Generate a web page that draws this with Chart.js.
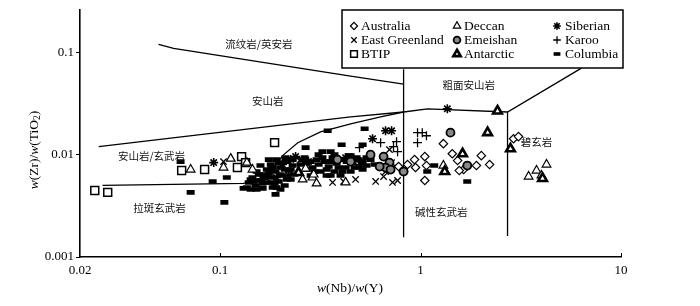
<!DOCTYPE html>
<html><head><meta charset="utf-8">
<script src="https://cdn.jsdelivr.net/npm/chart.js@4.4.0/dist/chart.umd.min.js"></script>
<style>html,body{margin:0;padding:0;background:#fff;}canvas{display:block;}</style>
</head><body>
<canvas id="c" width="700" height="306"></canvas>
<script>
// ---- tick values ----
const xTicks = [0.02, 0.1, 1, 10];
const yTicks = [0.001, 0.01, 0.1];
const xRange = [0.02, 10];
const yRange = [0.001, 0.26];

// ---- series: [Nb/Y, Zr/TiO2] ----
const australia = [[1.30,0.0128],[1.05,0.00957],[0.933,0.00894],[1.07,0.00782],[0.944,0.00748],[1.05,0.00559],[1.44,0.0102],[1.53,0.00875],[2.01,0.00978],[2.21,0.0080],[1.90,0.00782],[1.64,0.00715],[1.56,0.00699],[0.861,0.0080],[0.823,0.00684],[0.777,0.00765],[2.91,0.0143],[3.08,0.0150]];
const eastGreenland = [[0.700,0.0112],[0.717,0.00836],[0.654,0.00611],[0.725,0.00535],[0.768,0.00559],[0.669,0.00684],[0.474,0.00572],[0.413,0.00547],[0.364,0.00535],[0.597,0.00547],[0.104,0.00855],[0.252,0.00894]];
const btip = [[0.0237,0.00446],[0.0275,0.00428],[0.0643,0.0070],[0.0837,0.00715],[0.122,0.00748],[0.128,0.00957],[0.134,0.00836],[0.187,0.0131]];
const deccan = [[0.0713,0.00715],[0.104,0.00748],[0.113,0.00915],[0.145,0.00715],[0.136,0.00836],[0.258,0.00572],[0.289,0.00598],[0.303,0.00523],[0.267,0.00731],[0.293,0.0064],[0.423,0.00535],[1.30,0.00782],[3.46,0.00611],[3.79,0.00699],[4.25,0.00800],[4.01,0.00626]];
const emeishan = [[1.41,0.0164],[1.71,0.00782],[0.654,0.00957],[0.700,0.00836],[0.669,0.00748],[0.823,0.00684],[0.625,0.00765],[0.709,0.00715],[0.448,0.00855],[0.563,0.0100],[0.385,0.00894]];
const antarctic = [[2.42,0.0267],[2.16,0.0164],[2.81,0.0114],[1.62,0.0102],[1.32,0.00684],[4.06,0.00585],[0.246,0.00669]];
const siberian = [[1.36,0.0280],[0.669,0.0171],[0.717,0.0171],[0.576,0.0143],[0.0929,0.00836],[0.238,0.00957],[0.276,0.00855],[0.179,0.00715],[0.205,0.0080],[0.220,0.00626],[0.191,0.00598],[0.163,0.00572],[0.225,0.00894],[0.423,0.00935],[0.502,0.0080]];
const karoo = [[0.966,0.0164],[1.02,0.0164],[1.07,0.0153],[0.966,0.0131],[0.632,0.0131],[0.759,0.0134],[0.768,0.0107],[0.496,0.0117],[0.733,0.0120]];
const columbia = [[0.0635,0.00855],[0.0918,0.00547],[0.0713,0.00428],[0.108,0.00598],[0.105,0.00342],[0.131,0.00468],[0.189,0.00409],[0.267,0.0117],[0.344,0.0171],[0.324,0.0107],[0.404,0.0125],[0.526,0.0179],[0.514,0.0125],[1.08,0.00684],[1.17,0.00782],[1.71,0.00547],
 [0.139,0.00535],[0.145,0.00598],[0.150,0.00500],[0.156,0.00559],[0.163,0.00640],[0.163,0.00468],[0.171,0.00715],[0.171,0.00535],[0.179,0.00800],[0.179,0.00598],[0.183,0.00478],[0.189,0.00684],[0.191,0.00894],[0.196,0.00547],[0.200,0.00748],[0.205,0.00626],[0.210,0.00500],[0.215,0.00855],[0.220,0.00699],[0.225,0.00572],[0.230,0.00782],[0.152,0.00684],[0.175,0.00894],[0.200,0.00457],[0.159,0.00782],[0.235,0.00640],[0.142,0.00457],[0.167,0.00598],[0.187,0.00523],[0.212,0.00935],[0.136,0.00478],[0.147,0.00547],
 [0.142,0.00572],[0.156,0.0064],[0.163,0.00523],[0.175,0.00654],[0.183,0.00748],[0.196,0.00836],[0.200,0.0064],[0.210,0.00715],[0.215,0.00572],[0.225,0.00715],[0.230,0.00894],[0.191,0.00478],[0.171,0.00611],[0.152,0.00457],[0.179,0.00535],
 [0.252,0.00800],[0.264,0.00935],[0.270,0.00715],[0.283,0.00855],[0.289,0.00748],[0.303,0.00894],[0.310,0.0100],[0.317,0.00684],[0.332,0.00855],[0.340,0.00626],[0.348,0.00765],[0.364,0.00935],[0.372,0.00684],[0.381,0.00818],[0.399,0.00626],[0.408,0.00894],[0.423,0.00748],[0.438,0.00978],[0.448,0.00684],[0.458,0.00836],[0.480,0.00935],[0.491,0.00748],[0.514,0.00855],[0.538,0.00782],[0.563,0.00894],[0.590,0.0080],[0.356,0.0107],
 [0.258,0.00894],[0.270,0.00818],[0.296,0.00684],[0.310,0.0080],[0.324,0.00935],[0.340,0.00715],[0.356,0.00855],[0.372,0.0100],[0.390,0.00748],[0.408,0.00684],[0.428,0.00855],[0.448,0.00978],[0.469,0.00748],[0.491,0.00894],[0.514,0.00715],[0.538,0.00935],[0.283,0.00626],[0.356,0.00626]];

// ---- field boundaries ----
const lineRhyolite = [[0.0493,0.1197],[0.0586,0.1094],[0.448,0.0585],[0.823,0.0489]];
const lineAndesite = [[0.0248,0.01196],[0.448,0.0234],[0.823,0.0261],[1.084,0.0280],[2.716,0.0261],[6.35,0.070]];
const lineBasalt = [[0.0259,0.0050],[0.131,0.00523],[0.163,0.00598],[0.189,0.00782],[0.205,0.00978],[0.244,0.01308],[0.317,0.0167],[0.448,0.0200],[0.632,0.0234],[0.823,0.0261]];
const lineVert1 = [[0.823,0.0684],[0.823,0.00156]];
const lineVert2 = [[2.716,0.0261],[2.716,0.00160]];

// ---- field names ----
const fieldNames = ['流纹岩/英安岩','安山岩','安山岩/玄武岩','拉斑玄武岩','粗面安山岩','碱性玄武岩','碧玄岩'];
const fieldPos = [[0.156,0.120],[0.173,0.0334],[0.0455,0.00978],[0.0499,0.00299],[1.74,0.0479],[1.27,0.00274],[3.79,0.0134]];

const toXY = a => a.map(p => ({x:p[0], y:p[1]}));
const serif = "'Liberation Serif', 'Times New Roman', serif";

function pts(label, data, style, radius, bw, bg, order){
  return {label, data: toXY(data), showLine:false, pointStyle:style, pointRadius:radius,
    pointBorderWidth:bw, pointBorderColor:'#000', pointBackgroundColor:bg, borderColor:'#000', backgroundColor:bg, order};
}
function ln(data){
  return {label:'_line', data: toXY(data), showLine:true, pointRadius:0, borderColor:'#000', borderWidth:1.3, tension:0, fill:false, order:20};
}
const series = [
  pts('Australia', australia, 'rectRot', 4.2, 1.2, '#fff', 5),
  pts('East Greenland', eastGreenland, 'crossRot', 4.5, 1.3, '#fff', 5),
  pts('BTIP', btip, 'rect', 5.6, 1.5, '#fff', 5),
  pts('Deccan', deccan, 'triangle', 5, 1.2, '#fff', 4),
  pts('Emeishan', emeishan, 'circle', 4, 1.8, '#888', 3),
  pts('Antarctic', antarctic, 'triangle', 5, 2.6, '#fff', 3),
  pts('Siberian', siberian, 'star', 4.5, 1.6, '#fff', 6),
  pts('Karoo', karoo, 'cross', 4.5, 1.3, '#fff', 5),
  pts('Columbia', columbia, 'line', 4, 4.6, '#000', 7)
];
const datasets = [ln(lineRhyolite), ln(lineAndesite), ln(lineBasalt), ln(lineVert1), ln(lineVert2), ...series];

function richText(ctx, parts, size){
  let total = 0;
  const ms = parts.map(p => {
    const fs = p.sub ? size*0.7 : size;
    ctx.font = (p.it ? 'italic ' : '') + fs + 'px ' + serif;
    const w = ctx.measureText(p.t).width; total += w; return {p, w, fs};
  });
  let x = -total/2;
  ms.forEach(m => {
    ctx.font = (m.p.it ? 'italic ' : '') + m.fs + 'px ' + serif;
    ctx.fillText(m.p.t, x, m.p.sub ? size*0.25 : 0);
    x += m.w;
  });
}

const decor = {
  id:'decor',
  afterDraw(chart){
    const ctx = chart.ctx, xs = chart.scales.x, ys = chart.scales.y, ca = chart.chartArea;
    ctx.save();
    ctx.strokeStyle = '#000'; ctx.lineWidth = 1;
    xTicks.slice(1).forEach(v => { const px = Math.round(xs.getPixelForValue(v))+0.5; ctx.beginPath(); ctx.moveTo(px, ca.bottom); ctx.lineTo(px, ca.bottom-4); ctx.stroke(); });
    ctx.fillStyle = '#111'; ctx.textAlign = 'center'; ctx.textBaseline = 'middle';
    ctx.font = "10.5px 'Noto Sans CJK SC'";
    fieldNames.forEach((n,i) => ctx.fillText(n, xs.getPixelForValue(fieldPos[i][0]), ys.getPixelForValue(fieldPos[i][1])));
    ctx.fillStyle = '#000'; ctx.textAlign = 'left'; ctx.textBaseline = 'middle';
    ctx.save(); ctx.translate(350, 288);
    richText(ctx, [{t:'w',it:true},{t:'(Nb)/'},{t:'w',it:true},{t:'(Y)'}], 13.5);
    ctx.restore();
    ctx.save(); ctx.translate(34, 150); ctx.rotate(-Math.PI/2);
    richText(ctx, [{t:'w',it:true},{t:'(Zr)/'},{t:'w',it:true},{t:'(TiO'},{t:'2',sub:true},{t:')'}], 13.5);
    ctx.restore();
    const bx = 342, by = 10, bw = 281, bh = 58;
    ctx.fillStyle = '#fff'; ctx.fillRect(bx, by, bw, bh);
    ctx.strokeStyle = '#000'; ctx.lineWidth = 1.5; ctx.strokeRect(bx, by, bw, bh);
    const colMark = [354, 457, 557], colText = [361, 464, 565], rowY = [26, 40, 54];
    ctx.font = '13.5px ' + serif; ctx.textBaseline = 'middle'; ctx.textAlign = 'left';
    series.forEach((ds, i) => {
      const c = Math.floor(i/3), r = i%3;
      const opt = {pointStyle: ds.pointStyle, radius: ds.pointRadius*0.85, borderWidth: ds.pointBorderWidth, rotation:0};
      ctx.fillStyle = ds.pointBackgroundColor; ctx.strokeStyle = '#000'; ctx.lineWidth = Math.min(ds.pointBorderWidth, 3.6);
      Chart.helpers.drawPoint(ctx, opt, colMark[c], rowY[r]);
      ctx.fillStyle = '#000';
      ctx.fillText(ds.label, colText[c], rowY[r]+0.5);
    });
    ctx.restore();
  }
};

new Chart(document.getElementById('c'), {
  type:'scatter',
  data:{datasets},
  options:{
    responsive:false, animation:false, events:[], devicePixelRatio:1,
    layout:{padding:{left:0, top:8, right:79, bottom:0}},
    plugins:{legend:{display:false}, tooltip:{enabled:false}},
    scales:{
      x:{type:'logarithmic', min:xRange[0], max:xRange[1],
        afterBuildTicks: s => { s.ticks = xTicks.map(v => ({value:v})); },
        afterFit: s => { s.height = 49; },
        grid:{display:true, drawOnChartArea:false, drawTicks:false},
        border:{display:true, color:'#000', width:1.6},
        ticks:{autoSkip:false, maxRotation:0, padding:6, color:'#000', font:{family:serif, size:13}, callback: v => String(v)}},
      y:{type:'logarithmic', min:yRange[0], max:yRange[1],
        afterBuildTicks: s => { s.ticks = yTicks.map(v => ({value:v})); },
        afterFit: s => { s.width = 80; },
        grid:{display:true, drawOnChartArea:false, drawTicks:true, tickLength:4, color:'#000'},
        border:{display:true, color:'#000', width:1.6},
        ticks:{autoSkip:false, padding:2, color:'#000', font:{family:serif, size:13}, callback: v => String(v)}}
    }
  },
  plugins:[decor]
});
</script>
</body></html>
